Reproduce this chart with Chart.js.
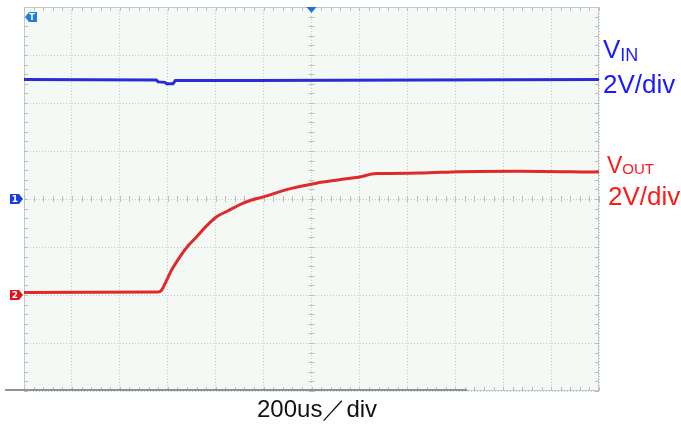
<!DOCTYPE html>
<html>
<head>
<meta charset="utf-8">
<script src="https://cdn.jsdelivr.net/npm/chart.js@4"></script>
<style>
  body { margin: 0; background: #fff; }
  #wrap { position: relative; width: 681px; height: 428px; font-family: "Liberation Sans", Arial, sans-serif; }
  #scope { position: absolute; left: 0; top: 0; }
  .lbl { position: absolute; white-space: nowrap; line-height: 26px; }
  .blue { color: #1a1aff; }
  .red { color: #ff1a1a; }
</style>
</head>
<body>
<div id="wrap">
  <canvas id="scope" width="681" height="428"></canvas>
  <div class="lbl blue" style="left:603px; top:36px; font-size:26px;">V<span style="font-size:18px; vertical-align:-3px;">IN</span></div>
  <div class="lbl blue" style="left:603px; top:71px; font-size:26px;">2V/div</div>
  <div class="lbl red" style="left:607px; top:152px; font-size:23px;">V<span style="font-size:15px; vertical-align:-1px;">OUT</span></div>
  <div class="lbl red" style="left:608px; top:183px; font-size:26px;">2V/div</div>
  <div class="lbl" style="left:257px; top:396px; font-size:24px; color:#111;">200us／div</div>
</div>
<script>
// time in us (200us/div, 12 div), level in divisions (0..8)
const vinTime = [0, 552, 560, 588, 596, 622, 632, 940, 2400];
const vinLevel = [6.49, 6.48, 6.44, 6.43, 6.40, 6.40, 6.47, 6.47, 6.49];

const voutTime = [0, 560, 574, 588, 616, 650, 684, 720, 762, 804, 850, 900, 950, 996, 1108, 1220, 1316, 1400, 1470, 1650, 1816, 2066, 2400];
const voutLevel = [2.05, 2.06, 2.10, 2.23, 2.52, 2.79, 3.02, 3.21, 3.44, 3.63, 3.75, 3.88, 3.98, 4.04, 4.21, 4.33, 4.40, 4.46, 4.53, 4.54, 4.57, 4.58, 4.56];

const ch1Ground = 4;
const ch2Ground = 2;
const triggerTime = 1200;

function toPoints(xs, ys) {
  return xs.map((x, i) => ({ x: x, y: ys[i] }));
}

const scopePlugin = {
  id: 'scope',
  beforeDraw(chart) {
    const { ctx, chartArea: a } = chart;
    ctx.save();
    ctx.fillStyle = '#f4f9f6';
    ctx.fillRect(a.left, a.top, a.right - a.left, a.bottom - a.top);
    ctx.restore();
  },
  beforeDatasetsDraw(chart) {
    const { ctx, chartArea: a } = chart;
    const xs = chart.scales.x, ys = chart.scales.y;
    ctx.save();
    ctx.strokeStyle = '#c4c9c6';
    ctx.lineWidth = 1;
    ctx.strokeRect(a.left + 0.5, a.top + 0.5, a.right - a.left - 1, a.bottom - a.top - 1);

    ctx.strokeStyle = '#b9bebb';
    ctx.beginPath();
    // minor ticks on top / bottom edges and the centre horizontal line
    for (let t = 0; t <= 2400; t += 40) {
      const px = Math.round(xs.getPixelForValue(t)) + 0.5;
      ctx.moveTo(px, a.top); ctx.lineTo(px, a.top + 4);
      ctx.moveTo(px, a.bottom); ctx.lineTo(px, a.bottom - 4);
      const cy = ys.getPixelForValue(ch1Ground);
      ctx.moveTo(px, cy - 3); ctx.lineTo(px, cy + 3);
    }
    // minor ticks on left / right edges and the centre vertical line
    for (let v = 0; v <= 8; v += 0.2) {
      const py = Math.round(ys.getPixelForValue(v)) + 0.5;
      ctx.moveTo(a.left, py); ctx.lineTo(a.left + 4, py);
      ctx.moveTo(a.right, py); ctx.lineTo(a.right - 4, py);
      const cx = xs.getPixelForValue(triggerTime);
      ctx.moveTo(cx - 3, py); ctx.lineTo(cx + 3, py);
    }
    ctx.stroke();

    // bottom bar of the scope screen
    ctx.strokeStyle = '#8e9290';
    ctx.lineWidth = 2;
    ctx.beginPath();
    ctx.moveTo(5, a.bottom - 1);
    ctx.lineTo(xs.getPixelForValue(1850), a.bottom - 1);
    ctx.stroke();
    ctx.restore();
  },
  afterDatasetsDraw(chart) {
    const { ctx, chartArea: a } = chart;
    const xs = chart.scales.x, ys = chart.scales.y;
    ctx.save();
    function marker(y, color, text) {
      ctx.fillStyle = color;
      ctx.beginPath();
      ctx.moveTo(10, y - 5);
      ctx.lineTo(19, y - 5);
      ctx.lineTo(23, y);
      ctx.lineTo(19, y + 5);
      ctx.lineTo(10, y + 5);
      ctx.closePath();
      ctx.fill();
      ctx.fillStyle = '#fff';
      ctx.font = 'bold 9px "DejaVu Sans", sans-serif';
      ctx.textAlign = 'center';
      ctx.textBaseline = 'middle';
      ctx.fillText(text, 15, y + 0.5);
    }
    marker(ys.getPixelForValue(ch1Ground), '#1a3fe0', '1');
    marker(ys.getPixelForValue(ch2Ground), '#e0141e', '2');

    // trigger flag top-left
    ctx.fillStyle = '#1f7de0';
    ctx.beginPath();
    ctx.moveTo(25, 17);
    ctx.lineTo(29, 12);
    ctx.lineTo(37, 12);
    ctx.lineTo(37, 22);
    ctx.lineTo(29, 22);
    ctx.closePath();
    ctx.fill();
    ctx.fillStyle = '#fff';
    ctx.font = 'bold 8px "DejaVu Sans", sans-serif';
    ctx.textAlign = 'center';
    ctx.textBaseline = 'middle';
    ctx.fillText('T', 32, 17.5);

    // trigger position arrow on top edge
    const tx = xs.getPixelForValue(triggerTime);
    ctx.fillStyle = '#1f6fe0';
    ctx.beginPath();
    ctx.moveTo(tx - 5, a.top);
    ctx.lineTo(tx + 5, a.top);
    ctx.lineTo(tx, a.top + 6);
    ctx.closePath();
    ctx.fill();
    ctx.restore();
  }
};

new Chart(document.getElementById('scope'), {
  type: 'scatter',
  data: {
    datasets: [
      {
        label: 'VIN',
        data: toPoints(vinTime, vinLevel),
        showLine: true,
        borderColor: '#2b2bd6',
        borderWidth: 3,
        pointRadius: 0,
        tension: 0,
      },
      {
        label: 'VOUT',
        data: toPoints(voutTime, voutLevel),
        showLine: true,
        borderColor: '#de2a2a',
        borderWidth: 3,
        pointRadius: 0,
        cubicInterpolationMode: 'monotone',
      },
    ],
  },
  options: {
    responsive: false,
    animation: false,
    layout: { padding: { left: 24, top: 7, right: 82, bottom: 37 } },
    plugins: {
      legend: { display: false },
      tooltip: { enabled: false },
    },
    scales: {
      x: {
        type: 'linear',
        min: 0,
        max: 2400,
        ticks: { display: false, stepSize: 200 },
        grid: { color: '#c6cbc8', drawTicks: false },
        border: { display: false, dash: [1, 2] },
      },
      y: {
        type: 'linear',
        min: 0,
        max: 8,
        ticks: { display: false, stepSize: 1 },
        grid: { color: '#c6cbc8', drawTicks: false },
        border: { display: false, dash: [1, 2] },
      },
    },
  },
  plugins: [scopePlugin],
});
</script>
</body>
</html>
